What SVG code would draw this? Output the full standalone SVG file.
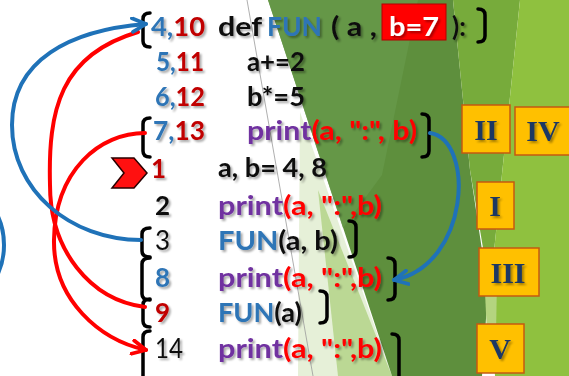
<svg xmlns="http://www.w3.org/2000/svg" width="569" height="376" viewBox="0 0 569 376">
  <defs>
    <filter id="shadow" x="-10%" y="-20%" width="130%" height="160%">
      <feGaussianBlur in="SourceAlpha" stdDeviation="1"/>
      <feOffset dx="1.5" dy="1.5" result="off"/>
      <feComponentTransfer><feFuncA type="linear" slope="0.35"/></feComponentTransfer>
      <feMerge><feMergeNode/><feMergeNode in="SourceGraphic"/></feMerge>
    </filter>
    <marker id="headBlue" viewBox="0 0 10 10" refX="9" refY="5" markerUnits="userSpaceOnUse" markerWidth="17" markerHeight="17" orient="auto">
      <path d="M1,1 L9,5 L1,9" fill="none" stroke="#1f72b8" stroke-width="2.2" stroke-linecap="round" stroke-linejoin="round"/>
    </marker>
    <marker id="headRed" viewBox="0 0 10 10" refX="9" refY="5" markerUnits="userSpaceOnUse" markerWidth="17" markerHeight="17" orient="auto">
      <path d="M1,1 L9,5 L1,9" fill="none" stroke="#ff0000" stroke-width="2.2" stroke-linecap="round" stroke-linejoin="round"/>
    </marker>
  </defs>
  <style>
    .code { font-family: Lato, "Open Sans", sans-serif; font-weight: bold; font-size: 26px; }
    .blk { fill: #111111; }
    .blu { fill: #2e75b6; }
    .drd { fill: #c00000; }
    .pur { fill: #7030a0; }
    .red { fill: #ff0000; }
    .brk { fill: none; stroke: #000000; stroke-width: 3.5; stroke-linecap: round; stroke-linejoin: round; }
    .box { fill: #ffc000; stroke: #c55a11; stroke-width: 1.5; }
    .rom { font-family: "Liberation Serif", "Times New Roman", serif; font-weight: bold; font-size: 30px; fill: #1f3864; text-anchor: middle; }
    .wire { fill: none; stroke-width: 4; stroke-linecap: round; }
  </style>

  <!-- backdrop -->
  <rect width="569" height="376" fill="#ffffff"/>
  <polygon points="300,112 392,376 298,376" fill="#e6f0d8"/>
  <polygon points="318,190 392,376 338,376" fill="#bbd894"/>
  <polygon points="268,0 453,0 470,170 488,290 482,376 392,376" fill="#5e8f3d"/>
  <polygon points="268,0 418,0 382,175 343,228" fill="#67994a" opacity="0.8"/>
  <polygon points="453,0 520,0 490,290 470,170" fill="#77ab3b"/>
  <polygon points="520,0 569,0 569,376 495,376 490,290" fill="#8fc13f"/>
  <polygon points="485,292 497,280 496,335 487,335" fill="#b4d47f"/>
  <line x1="247" y1="0" x2="313" y2="376" stroke="#9a9a9a" stroke-width="0.8"/>
  <circle cx="-64" cy="245" r="68" fill="none" stroke="#1f72b8" stroke-width="4"/>

  <!-- start marker -->
  <g id="start">
    <polygon points="112,158 134,158 147,173 134,188 112,188 124,173" fill="#ff1010" stroke="#2a0000" stroke-width="1.5" stroke-linejoin="miter"/>
  </g>

  <!-- line numbers -->
  <g id="numbers" class="code" filter="url(#shadow)">
    <text x="151" y="36" textLength="54" lengthAdjust="spacingAndGlyphs"><tspan class="blu">4,</tspan><tspan class="drd">10</tspan></text>
    <text x="156" y="71" textLength="48" lengthAdjust="spacingAndGlyphs"><tspan class="blu">5,</tspan><tspan class="drd">11</tspan></text>
    <text x="155" y="106" textLength="50" lengthAdjust="spacingAndGlyphs"><tspan class="blu">6,</tspan><tspan class="drd">12</tspan></text>
    <text x="153" y="140" textLength="52" lengthAdjust="spacingAndGlyphs"><tspan class="blu">7,</tspan><tspan class="drd">13</tspan></text>
    <text x="151" y="178" class="drd">1</text>
    <text x="155" y="215" class="blk">2</text>
    <text x="155" y="250" class="blk" font-weight="normal">3</text>
    <text x="155" y="287" class="blu">8</text>
    <text x="155" y="322" class="drd">9</text>
    <text x="155" y="358" class="blk" font-weight="normal" textLength="28" lengthAdjust="spacingAndGlyphs">14</text>
  </g>

  <!-- function definition -->
  <g id="def-line">
    <rect x="382" y="4" width="64" height="36" fill="#ff0000" stroke="#b30000" stroke-width="1"/>
    <g class="code" filter="url(#shadow)">
      <text x="218" y="36" class="blk" textLength="44" lengthAdjust="spacingAndGlyphs">def</text>
      <text x="267" y="36" class="blu" textLength="55" lengthAdjust="spacingAndGlyphs">FUN</text>
      <text x="331" y="36" class="blk" textLength="46" lengthAdjust="spacingAndGlyphs">( a ,</text>
      <text x="414" y="36" fill="#ffffff" text-anchor="middle" textLength="50" lengthAdjust="spacingAndGlyphs">b=7</text>
      <text x="452" y="36" class="blk">):</text>
    </g>
  </g>

  <g id="body" class="code" filter="url(#shadow)">
    <text x="247" y="71" class="blk" textLength="58" lengthAdjust="spacingAndGlyphs">a+=2</text>
    <text x="247" y="106" class="blk" textLength="58" lengthAdjust="spacingAndGlyphs">b*=5</text>
    <text x="247" y="140" textLength="170" lengthAdjust="spacingAndGlyphs"><tspan class="pur">print</tspan><tspan class="red">(a, ":", b)</tspan></text>
  </g>

  <g id="main" class="code" filter="url(#shadow)">
    <text x="218" y="177" class="blk" textLength="109" lengthAdjust="spacingAndGlyphs">a, b= 4, 8</text>
    <text x="218" y="215" textLength="164" lengthAdjust="spacingAndGlyphs"><tspan class="pur">print</tspan><tspan class="red">(a, ":",b)</tspan></text>
    <text x="218" y="250" textLength="120" lengthAdjust="spacingAndGlyphs"><tspan class="blu">FUN</tspan><tspan class="blk">(a, b)</tspan></text>
    <text x="218" y="287" textLength="164" lengthAdjust="spacingAndGlyphs"><tspan class="pur">print</tspan><tspan class="red">(a, ":",b)</tspan></text>
    <text x="218" y="322" textLength="84" lengthAdjust="spacingAndGlyphs"><tspan class="blu">FUN</tspan><tspan class="blk">(a)</tspan></text>
    <text x="218" y="358" textLength="164" lengthAdjust="spacingAndGlyphs"><tspan class="pur">print</tspan><tspan class="red">(a, ":",b)</tspan></text>
  </g>

  <!-- brackets -->
  <g id="brackets">
    <path class="brk" d="M150,13 Q143,13 143,19 L143,41 Q143,47 150,47"/>
    <path class="brk" d="M150,118 Q143,118 143,124 L143,151 Q143,157 150,157"/>
    <path class="brk" d="M150,228 Q142,228 142,234 L142,251 Q142,257 150,257"/>
    <path class="brk" d="M150,258 Q142,258 142,264 L142,294 Q142,300 150,300"/>
    <path class="brk" d="M150,299 Q143,299 143,305 L143,321 Q143,327 150,327"/>
    <path class="brk" d="M150,331 Q143,331 143,337 L143,380"/>
    <path class="brk" d="M478,9 Q485,9 485,15 L485,36 Q485,42 478,42"/>
    <path class="brk" d="M422,114 Q429,114 429,120 L429,151 Q429,157 422,157"/>
    <path class="brk" d="M349,221 Q356,221 356,227 L356,251 Q356,257 349,257"/>
    <path class="brk" d="M388,258 Q395,258 395,264 L395,294 Q395,300 388,300"/>
    <path class="brk" d="M320,291 Q327,291 327,297 L327,317 Q327,323 320,323"/>
    <path class="brk" d="M392,334 Q399,334 399,340 L399,380"/>
  </g>

  <!-- execution flow -->
  <g id="connectors">
    <path class="wire" stroke="#ff0000" d="M145,307 C 90,300 50,250 50,185 C 48,110 60,55 138,32"/>
    <path class="wire" stroke="#ff0000" d="M145,133 C 100,133 55,170 54,240 C 53,300 100,340 146,350" marker-end="url(#headRed)"/>
    <path class="wire" stroke="#1f72b8" d="M141,240 C 70,240 12,190 12,125 C 12,60 70,30 146,24" marker-end="url(#headBlue)"/>
    <path class="wire" stroke="#1f72b8" d="M430,133 C 475,140 470,265 394,280" marker-end="url(#headBlue)"/>
  </g>

  <!-- step labels -->
  <g id="step-II"><rect class="box" x="462" y="105" width="48" height="48"/><text class="rom" x="486" y="140" filter="url(#shadow)">II</text></g>
  <g id="step-IV"><rect class="box" x="515" y="107" width="60" height="48"/><text class="rom" x="543" y="141" filter="url(#shadow)">IV</text></g>
  <g id="step-I"><rect class="box" x="477" y="182" width="37" height="47"/><text class="rom" x="495" y="216" filter="url(#shadow)">I</text></g>
  <g id="step-III"><rect class="box" x="479" y="248" width="60" height="48"/><text class="rom" x="508" y="283" filter="url(#shadow)">III</text></g>
  <g id="step-V"><rect class="box" x="477" y="324" width="47" height="49"/><text class="rom" x="500" y="359" filter="url(#shadow)">V</text></g>
</svg>
